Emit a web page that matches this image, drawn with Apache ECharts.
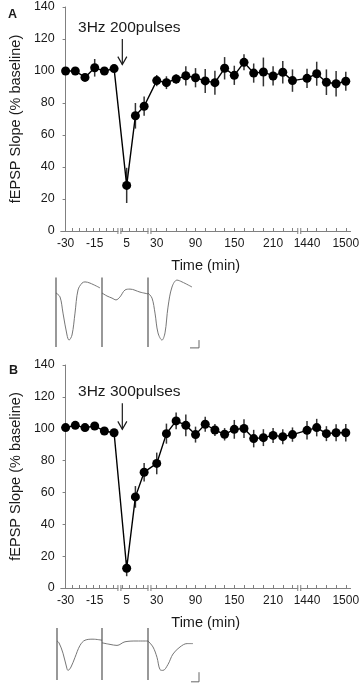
<!DOCTYPE html>
<html>
<head>
<meta charset="utf-8">
<script src="https://cdn.jsdelivr.net/npm/echarts@6/dist/echarts.min.js"></script>
<style>
  html, body { margin: 0; padding: 0; background: #fff; }
  #chart { width: 362px; height: 693px; }
</style>
</head>
<body>
<div id="chart"></div>
<script>
// time points (min) relative to stimulation
const times = [-30, -25, -20, -15, -10, -5, 5, 10, 15, 30, 45, 60, 75, 90, 105, 120, 135, 150, 165, 180, 195, 210, 225, 240, 1440, 1455, 1470, 1485, 1500]
const tickLabelTimes = [-30, -15, 5, 30, 90, 150, 210, 1440, 1500]

// panel A: 3Hz 200 pulses
const meanA = [100, 100, 96, 102, 100, 101.5, 28.5, 72, 78, 94, 92.7, 95, 97, 95.8, 93.8, 92.7, 101.7, 97.3, 105.4, 98.7, 99.4, 96.9, 99.2, 94, 95.4, 98.3, 93, 92, 93.6]
const semA = [1.5, 1.5, 2, 5.5, 1.5, 1.5, 11, 8, 6, 3.5, 4, 3, 6, 6, 7.5, 7.5, 7, 6, 5, 6, 9, 6, 7, 7, 6, 7.5, 8, 8, 6]

// panel B: 3Hz 300 pulses
const meanB = [100.7, 102.1, 100.7, 101.7, 98.6, 97.5, 12.4, 57.2, 72.7, 78.2, 96.9, 104.9, 102.1, 96.3, 102.8, 99.2, 96.5, 99.6, 100.1, 93.8, 94.4, 95.8, 95, 96.3, 99, 100.7, 96.9, 97.5, 97.5]
const semB = [1.5, 1.5, 1.5, 1.5, 2, 2, 5, 6.8, 5.8, 6.8, 6.3, 5.3, 6.8, 5, 4.7, 3.7, 3.9, 5.9, 5.9, 5.5, 5.3, 4.7, 4.7, 4.5, 5.8, 5.5, 4.7, 5.3, 5.5]

// example field potentials (sweep time ms, amplitude mV)
const traceA1 = [[4, 0], [8, -0.13], [11, -0.67], [15, -1.4], [17, -1.57], [20, -1.4], [23, -0.67], [26, 0.1], [30, 0.33], [33, 0.37], [38, 0.33], [48, 0.17]]
const traceA2 = [[50, 0], [55, -0.1], [60, -0.17], [64, -0.23], [68, -0.13], [73, 0.1], [78, 0.13], [88, 0.03], [96, -0.03]]
const traceA3 = [[96, 0], [100, -0.17], [103, -0.67], [106, -1.33], [110, -1.57], [113, -1.33], [116, -0.47], [120, 0.2], [125, 0.43], [130, 0.37], [140, 0.2]]
const artifactsA = [4, 50, 96]
const scaleBarA = [[138, -1.83], [147, -1.83], [147, -1.57]]

const traceB1 = [[5, 0], [7, -0.07], [11, -0.47], [15, -1.07], [16, -1.13], [19, -1], [23, -0.63], [28, -0.17], [33, 0.03], [41, 0.07], [50, 0.03]]
const traceB2 = [[50, -0.07], [58, -0.13], [65, -0.17], [73, -0.03], [85, 0], [96, 0]]
const traceB3 = [[96, 0], [101, -0.23], [105, -0.63], [108, -1.1], [111, -1.13], [116, -0.9], [121, -0.5], [128, -0.23], [135, -0.1], [141, -0.1]]
const artifactsB = [5, 50, 96]
const scaleBarB = [[139, -1.57], [147, -1.57], [147, -1.2]]

const FONT = 'Liberation Sans, Arial, sans-serif'
const INK = '#1a1a1a'
const AXIS = '#808080'

// broken time axis -> plot slot
const pos = (t) => {
  if (t < 0) return (t + 30) / 5
  if (t < 30) return 6.3 + (t - 5) * 0.18
  if (t < 1000) return 9.4 + (t - 30) / 15
  return 24.9 + (t - 1440) / 15
}
const stimSlot = 5.85
const breakSlots = [5.55, 8.65, 24.1]

const tickSlots = []
for (let s = 0; s <= 5.0; s += 0.7) tickSlots.push(s)
for (let s = 5.8; s <= 8.1; s += 0.72) tickSlots.push(s)
for (let t = 30; t <= 240; t += 15) tickSlots.push(pos(t))
for (let t = 1440; t <= 1500; t += 15) tickSlots.push(pos(t))

const labelFor = (v) => {
  const t = tickLabelTimes.find((x) => Math.abs(pos(x) - v) < 1e-6)
  return t === undefined ? '' : String(t)
}

const makeTimeAxis = (gridIndex) => ({
  type: 'value',
  gridIndex,
  min: -0.5,
  max: 29.4,
  name: 'Time (min)',
  nameLocation: 'middle',
  nameGap: 27,
  nameTextStyle: { fontFamily: FONT, fontSize: 14.5, color: INK },
  splitLine: { show: false },
  axisLine: { lineStyle: { color: AXIS, width: 1 } },
  axisTick: { inside: true, length: 3, lineStyle: { color: AXIS }, customValues: tickSlots },
  axisLabel: {
    customValues: tickLabelTimes.map(pos),
    formatter: labelFor,
    fontFamily: FONT,
    fontSize: 12,
    color: INK,
    margin: 7,
  },
})

const makeSlopeAxis = (gridIndex) => ({
  type: 'value',
  gridIndex,
  min: 0,
  max: 140,
  interval: 20,
  name: 'fEPSP Slope (% baseline)',
  nameLocation: 'middle',
  nameRotate: 90,
  nameGap: 37,
  nameTextStyle: { fontFamily: FONT, fontSize: 14.5, color: INK },
  splitLine: { show: false },
  axisLine: { show: true, lineStyle: { color: AXIS, width: 1 } },
  axisTick: { show: true, length: 3, lineStyle: { color: AXIS } },
  axisLabel: { fontFamily: FONT, fontSize: 12.5, color: INK, margin: 6 },
})

const hiddenAxis = (gridIndex, min, max) => ({
  type: 'value', gridIndex, min, max, show: false,
})

const meanSeries = (idx, mean) => ({
  type: 'line',
  xAxisIndex: idx,
  yAxisIndex: idx,
  data: times.map((t, i) => [pos(t), mean[i]]),
  symbol: 'circle',
  symbolSize: 9,
  itemStyle: { color: '#000' },
  lineStyle: { color: '#000', width: 1.4 },
  z: 4,
})

const errorSeries = (idx, mean, sem) => ({
  type: 'custom',
  xAxisIndex: idx,
  yAxisIndex: idx,
  data: times.map((t, i) => [pos(t), mean[i] - sem[i], mean[i] + sem[i]]),
  renderItem: (params, api) => {
    const lo = api.coord([api.value(0), api.value(1)])
    const hi = api.coord([api.value(0), api.value(2)])
    return {
      type: 'line',
      shape: { x1: lo[0], y1: lo[1], x2: hi[0], y2: hi[1] },
      style: { stroke: '#333', lineWidth: 1.5 },
    }
  },
  z: 3,
})

const breakSeries = (idx) => ({
  type: 'custom',
  xAxisIndex: idx,
  yAxisIndex: idx,
  clip: false,
  data: breakSlots.map((s) => [s, 0]),
  renderItem: (params, api) => {
    const p = api.coord([api.value(0), 0])
    return {
      type: 'group',
      children: [
        { type: 'rect', shape: { x: p[0] - 1, y: p[1] - 2, width: 2, height: 4 }, style: { fill: '#fff' } },
        { type: 'line', shape: { x1: p[0] - 1.5, y1: p[1] - 3, x2: p[0] - 1.5, y2: p[1] + 3 }, style: { stroke: AXIS, lineWidth: 1 } },
        { type: 'line', shape: { x1: p[0] + 1.5, y1: p[1] - 3, x2: p[0] + 1.5, y2: p[1] + 3 }, style: { stroke: AXIS, lineWidth: 1 } },
      ],
    }
  },
  z: 5,
})

const stimSeries = (idx, label, textY, arrowTop, arrowBottom) => ({
  type: 'custom',
  xAxisIndex: idx,
  yAxisIndex: idx,
  clip: false,
  data: [[stimSlot, textY, arrowTop, arrowBottom]],
  renderItem: (params, api) => {
    const t = api.coord([api.value(0), api.value(1)])
    const a = api.coord([api.value(0), api.value(2)])
    const b = api.coord([api.value(0), api.value(3)])
    return {
      type: 'group',
      children: [
        {
          type: 'text',
          style: {
            x: t[0] + 7, y: t[1], text: label, align: 'center', verticalAlign: 'middle',
            fontFamily: FONT, fontSize: 15.5, fill: INK,
          },
        },
        { type: 'line', shape: { x1: a[0], y1: a[1], x2: b[0], y2: b[1] }, style: { stroke: INK, lineWidth: 1.2 } },
        {
          type: 'polyline',
          shape: { points: [[b[0] - 4.5, b[1] - 8], [b[0], b[1]], [b[0] + 4.5, b[1] - 8]] },
          style: { stroke: INK, lineWidth: 1.2, fill: null },
        },
      ],
    }
  },
  z: 6,
})

const traceSeries = (idx, data) => ({
  type: 'line',
  xAxisIndex: idx,
  yAxisIndex: idx,
  data,
  smooth: 0.35,
  showSymbol: false,
  lineStyle: { color: '#777', width: 1 },
})

const artifactSeries = (idx, t, top, bottom) => ({
  type: 'line',
  xAxisIndex: idx,
  yAxisIndex: idx,
  data: [[t, top], [t, bottom]],
  showSymbol: false,
  lineStyle: { color: '#444', width: 1.1 },
})

const scaleSeries = (idx, data) => ({
  type: 'line',
  xAxisIndex: idx,
  yAxisIndex: idx,
  data,
  showSymbol: false,
  lineStyle: { color: '#666', width: 1 },
})

const chart = echarts.init(document.getElementById('chart'), null, { renderer: 'canvas' })
chart.setOption({
  animation: false,
  backgroundColor: '#fff',
  textStyle: { fontFamily: FONT },
  title: [
    { text: 'A', left: 3, top: 3, textStyle: { fontFamily: FONT, fontSize: 12.5, fontWeight: 'bold', color: INK } },
    { text: 'B', left: 4, top: 359, textStyle: { fontFamily: FONT, fontSize: 12.5, fontWeight: 'bold', color: INK } },
  ],
  grid: [
    { left: 52, top: 7, width: 299, height: 224 },
    { left: 52, top: 278, width: 150, height: 75 },
    { left: 52, top: 365, width: 299, height: 223 },
    { left: 52, top: 628, width: 150, height: 75 },
  ],
  xAxis: [
    makeTimeAxis(0),
    hiddenAxis(1, 0, 150),
    makeTimeAxis(2),
    hiddenAxis(3, 0, 150),
  ],
  yAxis: [
    makeSlopeAxis(0),
    hiddenAxis(1, -2, 0.5),
    makeSlopeAxis(2),
    hiddenAxis(3, -2, 0.5),
  ],
  series: [
    errorSeries(0, meanA, semA),
    meanSeries(0, meanA),
    breakSeries(0),
    stimSeries(0, '3Hz 200pulses', 127, 120, 104),
    errorSeries(2, meanB, semB),
    meanSeries(2, meanB),
    breakSeries(2),
    stimSeries(2, '3Hz 300pulses', 123, 116, 99.6),
    traceSeries(1, traceA1),
    traceSeries(1, traceA2),
    traceSeries(1, traceA3),
    ...artifactsA.map((t) => artifactSeries(1, t, 0.53, -1.8)),
    scaleSeries(1, scaleBarA),
    traceSeries(3, traceB1),
    traceSeries(3, traceB2),
    traceSeries(3, traceB3),
    ...artifactsB.map((t) => artifactSeries(3, t, 0.5, -1.5)),
    scaleSeries(3, scaleBarB),
  ],
})
</script>
</body>
</html>
